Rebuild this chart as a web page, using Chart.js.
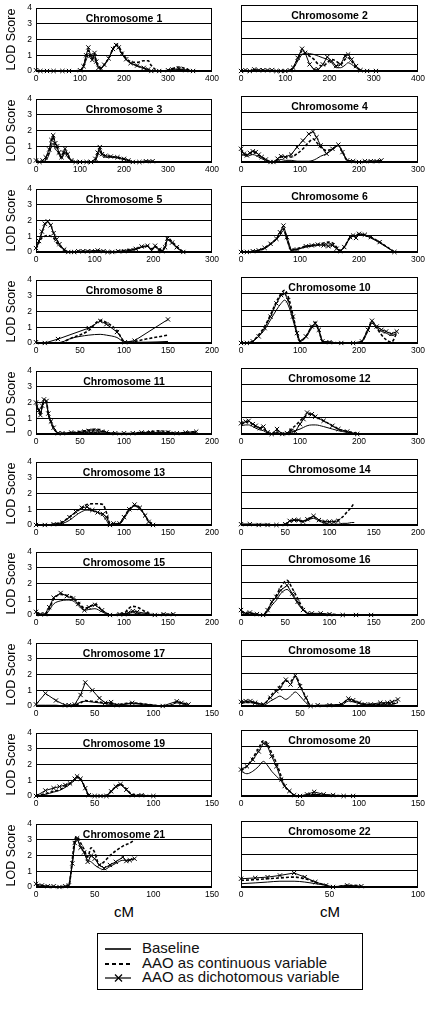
<!DOCTYPE html>
<html>
<head>
<meta charset="utf-8">
<script src="https://cdn.jsdelivr.net/npm/chart.js@4"></script>
<style>
  html, body { margin:0; padding:0; background:#fff; }
  body { width:430px; height:1010px; position:relative; overflow:hidden; font-family:"Liberation Sans", Arial, sans-serif; color:#000; }
  canvas { position:absolute; }
  .cm { position:absolute; font-size:15px; width:60px; margin-left:-30px; text-align:center; top:903px; }
  #legend { position:absolute; left:97px; top:933px; width:266px; height:57px; border:1px solid #000; box-sizing:border-box; }
  .lrow { position:absolute; left:0; height:16px; width:100%; }
  .lrow svg { position:absolute; left:7px; top:0; }
  .lrow span { position:absolute; left:44px; top:-1px; font-size:15px; line-height:16px; white-space:nowrap; color:#111; }
</style>
</head>
<body>
<div class="cm" style="left:124px;">cM</div>
<div class="cm" style="left:330px;">cM</div>
<div id="legend">
  <div class="lrow" style="top:7px;"><svg width="26" height="16"><line x1="0" y1="8" x2="26" y2="8" stroke="#000" stroke-width="1.6"/></svg><span>Baseline</span></div>
  <div class="lrow" style="top:22px;"><svg width="26" height="16"><line x1="0" y1="8" x2="26" y2="8" stroke="#000" stroke-width="1.8" stroke-dasharray="4,3"/></svg><span>AAO as continuous variable</span></div>
  <div class="lrow" style="top:36px;"><svg width="26" height="16"><line x1="0" y1="8" x2="26" y2="8" stroke="#000" stroke-width="1.2"/><line x1="10" y1="4.5" x2="17" y2="11.5" stroke="#000" stroke-width="1.2"/><line x1="17" y1="4.5" x2="10" y2="11.5" stroke="#000" stroke-width="1.2"/></svg><span>AAO as dichotomous variable</span></div>
</div>
<script>
// ---------------- DATA ----------------
const chromNames = ['1','2','3','4','5','6','8','10','11','12','13','14','15','16','17','18','19','20','21','22'];
const xMaxes = [400,400,400,300,300,300,200,300,200,300,200,200,200,200,150,150,150,150,150,100];
const xSteps = [100,100,100,100,100,100,50,100,50,100,50,50,50,50,50,50,50,50,50,50];
const yTicks = [0,1,2,3,4];

const cM1 = [0,10,25,40,60,75,100,108,114,119,124,128,133,137,142,148,155,165,175,182,188,195,205,215,230,245,255,262,280,300,310,325,340,357];
const dich1 = [0.05,0,0,0,0,0,0.05,0.3,1.0,1.5,1.0,0.7,1.15,0.6,0.2,0.15,0.4,0.8,1.4,1.65,1.5,1.1,0.75,0.5,0.35,0.2,0.1,0.0,0.0,0.05,0.1,0.15,0.05,0.0];
const cont1 = [0,0,0,0,0,0,0,0.35,0.9,1.3,0.95,0.8,1.1,0.6,0.3,0.2,0.4,0.8,1.4,1.7,1.55,1.2,0.8,0.6,0.55,0.65,0.65,0.35,0.0,0.05,0.15,0.25,0.15,0.0];
const base1 = [0,0,0,0,0,0,0,0.25,0.7,1.0,0.8,0.75,0.9,0.5,0.3,0.2,0.35,0.8,1.35,1.6,1.45,1.1,0.7,0.5,0.3,0.15,0.05,0.0,0.0,0.0,0.05,0.1,0.05,0.0];

const cM2 = [0,10,20,30,40,50,60,70,80,90,100,110,118,128,138,145,155,165,175,185,195,205,215,225,235,242,250,260,270,285,305];
const dich2 = [0,0.05,0,0.1,0.05,0.05,0.05,0.05,0,0,0,0.05,0.2,0.8,1.35,1.1,0.4,0.1,0.1,0.4,0.85,0.6,0.3,0.4,0.9,1.0,0.7,0.3,0.05,0,0];
const cont2 = [0,0,0,0.05,0.05,0.05,0,0,0,0,0,0,0.2,0.7,1.2,1.05,0.9,0.7,0.4,0.3,0.5,0.7,0.6,0.4,0.7,0.8,0.6,0.25,0.05,0,0];
const base2 = [0,0,0,0.05,0,0,0,0,0,0,0,0,0.15,0.6,1.0,1.1,1.05,1.0,0.9,0.8,0.7,0.5,0.2,0.2,0.35,0.5,0.4,0.2,0.05,0,0];

const cM3 = [0,8,15,22,30,35,39,44,48,52,58,62,66,72,80,90,100,115,125,135,140,145,150,158,170,185,200,210,220,235,250,265];
const dich3 = [0.1,0,0.1,0.3,0.8,1.4,1.7,1.2,1.0,0.6,0.3,0.6,0.85,0.5,0.1,0,0,0,0,0.2,0.6,0.95,0.5,0.4,0.35,0.3,0.2,0.1,0,0,0.05,0.05];
const cont3 = [0.1,0,0.05,0.2,0.7,1.3,1.6,1.1,0.9,0.6,0.3,0.5,0.7,0.4,0.1,0,0,0,0,0.15,0.5,0.85,0.5,0.4,0.35,0.3,0.2,0.1,0,0,0.05,0.05];
const base3 = [0.05,0,0.05,0.1,0.5,1.0,1.2,0.8,0.7,0.5,0.2,0.4,0.6,0.3,0.1,0,0,0,0,0.1,0.4,0.7,0.4,0.3,0.3,0.25,0.15,0.1,0,0,0.05,0.05];

const cM4 = [0,5,10,15,20,25,30,35,42,50,55,62,68,75,85,95,105,115,122,128,135,145,155,165,172,180,190,200,210,220,230,238];
const dich4 = [0.8,0.5,0.4,0.55,0.65,0.6,0.45,0.3,0.15,0.0,0.0,0.2,0.35,0.3,0.45,0.9,1.3,1.7,1.85,1.5,1.0,0.5,0.8,1.05,0.6,0.1,0.05,0.0,0.05,0.05,0.05,0.1];
const cont4 = [0.7,0.5,0.45,0.5,0.6,0.55,0.4,0.3,0.15,0.0,0.0,0.15,0.3,0.3,0.3,0.5,0.8,1.2,1.4,1.2,0.9,0.7,0.8,1.0,0.6,0.1,0.05,0.0,0.05,0.05,0.05,0.1];
const base4 = [0.5,0.4,0.35,0.4,0.45,0.4,0.3,0.2,0.1,0.0,0.0,0.1,0.15,0.1,0.1,0.05,0.05,0.05,0.1,0.2,0.35,0.5,0.75,1.0,0.6,0.1,0.05,0.0,0.0,0.05,0.05,0.05];

const cM5 = [0,5,10,15,20,25,30,35,40,48,55,65,72,80,88,95,105,115,122,130,140,150,160,170,180,190,197,203,210,215,220,224,232,240,251];
const dich5 = [0.25,0.7,1.3,1.8,1.95,1.7,1.2,0.8,0.5,0.15,0.0,0.0,0.05,0.05,0.05,0.05,0.1,0.05,0.0,0.0,0.05,0.05,0.1,0.2,0.35,0.4,0.1,0.4,0.15,0.05,0.3,0.85,0.6,0.3,0.0];
const cont5 = [0.2,0.6,0.9,1.0,1.05,1.0,0.9,0.6,0.4,0.15,0,0,0.05,0.05,0.05,0.05,0.1,0.05,0,0,0.05,0.1,0.15,0.2,0.3,0.4,0.2,0.35,0.2,0.1,0.4,0.9,0.65,0.35,0.0];
const base5 = [0.2,0.65,1.2,1.7,1.9,1.7,1.2,0.8,0.45,0.1,0,0,0,0,0,0.05,0.05,0,0,0,0.05,0.05,0.1,0.15,0.3,0.35,0.1,0.3,0.1,0.05,0.3,0.75,0.55,0.25,0.0];

const cM6 = [0,10,20,30,40,50,60,66,72,78,85,95,110,120,130,140,148,155,162,168,175,185,190,195,200,210,220,235,260];
const dich6 = [0,0,0.05,0.1,0.25,0.5,0.8,1.2,1.6,0.9,0.1,0.15,0.35,0.4,0.45,0.4,0.35,0.4,0.2,0.05,0.3,0.9,1.0,0.85,1.1,1.05,0.9,0.6,0.0];
const cont6 = [0,0,0.05,0.1,0.25,0.5,0.8,1.1,1.4,0.8,0.15,0.2,0.35,0.4,0.45,0.55,0.6,0.55,0.3,0.1,0.3,0.9,1.0,1.0,1.1,1.0,0.9,0.6,0.0];
const base6 = [0,0,0.05,0.1,0.2,0.45,0.75,1.0,1.3,0.7,0.1,0.15,0.3,0.35,0.4,0.45,0.5,0.45,0.25,0.05,0.3,0.85,0.95,0.95,1.05,1.0,0.85,0.55,0.0];

const cM8 = [0,10,25,40,60,73,80,92,101,112,125,150];
const dich8 = [0.05,0,0.25,null,0.95,1.4,1.2,0.7,0.05,0.15,null,1.5];
const cont8 = [0,0,0,0.3,0.8,1.45,1.3,0.8,0.05,0.1,0.25,0.5];
const base8 = [0,0,0,0.3,0.5,0.55,0.5,0.35,0.05,0.05,0.05,0.1];

const cM10 = [0,10,20,30,40,50,60,68,74,80,88,95,100,110,120,126,132,138,150,170,190,205,215,222,230,238,246,255,264];
const dich10 = [0,0,0.1,0.4,0.9,1.6,2.4,2.9,3.0,2.6,1.6,0.6,0.1,0.4,1.0,1.2,0.8,0.1,0.05,0,0,0.1,0.8,1.35,1.0,0.8,0.7,0.55,0.7];
const cont10 = [0,0,0.1,0.5,1.0,1.7,2.5,3.0,3.2,2.8,1.7,0.6,0.1,0.4,1.0,1.25,0.8,0.1,0.05,0,0,0.1,0.8,1.3,0.9,0.5,0.2,0.05,0.6];
const base10 = [0,0,0.1,0.4,0.8,1.4,2.0,2.4,2.6,2.3,1.4,0.5,0.1,0.35,0.9,1.1,0.7,0.1,0.05,0,0,0.1,0.7,1.2,0.9,0.7,0.6,0.45,0.6];

const cM11 = [0,3,5,7,9,12,14,17,20,25,30,40,50,55,60,65,70,75,80,90,100,110,120,130,140,150,160,170,182];
const dich11 = [2.0,1.5,1.2,1.8,2.2,2.1,1.3,0.8,0.4,0.05,0.05,0.1,0.1,0.15,0.2,0.2,0.2,0.15,0.1,0.05,0.05,0.05,0.1,0.1,0.1,0.1,0.05,0.1,0.15];
const cont11 = [1.9,1.6,1.3,1.8,2.1,2.0,1.3,0.8,0.4,0.05,0.05,0.1,0.15,0.2,0.25,0.3,0.3,0.2,0.1,0.05,0,0.05,0.1,0.15,0.2,0.15,0.05,0.1,0.15];
const base11 = [1.8,1.5,1.2,1.7,2.0,1.9,1.2,0.7,0.3,0.05,0,0.05,0.1,0.1,0.1,0.1,0.1,0.05,0.05,0,0,0,0.05,0.05,0.05,0.05,0.05,0.05,0.1];

const cM12 = [0,8,13,20,25,32,38,45,52,61,70,78,85,92,100,106,112,120,126,140,155,165,180,197];
const dich12 = [0.65,0.75,0.8,0.6,0.5,0.35,0.45,0.1,0.0,0.3,0.0,0.05,0.2,0.15,0.6,0.9,1.3,1.2,1.05,0.8,0.5,0.3,0.15,0.0];
const cont12 = [0.6,0.7,0.75,0.55,0.45,0.35,0.3,0.1,0.0,0.2,0.05,0.05,0.3,0.5,0.8,1.0,1.15,1.2,1.05,0.8,0.5,0.3,0.15,0.05];
const base12 = [0.5,0.55,0.55,0.45,0.35,0.25,0.2,0.05,0.0,0.1,0.0,0.05,0.1,0.2,0.3,0.4,0.5,0.55,0.55,0.45,0.3,0.2,0.1,0.0];

const cM13 = [0,10,20,30,38,45,52,58,64,70,76,80,84,88,95,100,106,112,118,124,128,133];
const dich13 = [0,0,0.05,0.15,0.5,0.85,1.1,1.15,0.95,0.8,0.7,0.5,0.0,0.1,0.1,0.5,1.0,1.3,1.1,0.6,0.2,0.0];
const cont13 = [0,0,0.05,0.2,0.5,0.8,1.1,1.3,1.35,1.35,1.3,0.8,0.1,0.05,0.1,0.5,1.0,1.25,1.1,0.6,0.25,0.05];
const base13 = [0,0,0.05,0.1,0.3,0.6,0.85,0.95,0.9,0.8,0.6,0.3,0.0,0.0,0.05,0.4,0.9,1.2,1.0,0.6,0.2,0.0];

const cM14 = [0,10,20,30,40,50,55,60,65,70,75,82,88,95,100,105,110,115,120,125,128];
const dich14 = [0.05,0.05,0,0,0,0.05,0.25,0.3,0.3,0.2,0.35,0.55,0.3,0.2,0.2,0.2,0.25,null,null,null,null];
const cont14 = [0,0,0,0,0,0.05,0.2,0.3,0.25,0.2,0.3,0.5,0.3,0.2,0.2,0.2,0.3,0.5,0.8,1.1,1.35];
const base14 = [0.05,0.05,0.05,0.05,0,0.05,0.25,0.3,0.3,0.25,0.3,0.4,0.25,0.1,0.05,0.05,0.05,0.1,0.1,0.15,0.15];

const cM15 = [0,5,10,15,20,28,35,42,48,55,60,67,75,84,95,100,105,110,115,125,135,145,156];
const dich15 = [0.2,0.05,0.05,0.5,1.1,1.4,1.2,1.05,0.7,0.3,0.5,0.65,0.3,0.0,0.05,0.05,0.15,0.25,0.2,0.1,0.0,0.05,0.05];
const cont15 = [0.15,0.05,0.05,0.4,1.0,1.3,1.25,1.1,0.8,0.45,0.5,0.7,0.3,0.0,0.05,0.1,0.4,0.55,0.5,0.2,0.0,0.05,0.05];
const base15 = [0.1,0,0,0.3,0.7,0.9,0.95,0.9,0.6,0.3,0.35,0.4,0.2,0.0,0.0,0.05,0.1,0.15,0.1,0.05,0.0,0.0,0.05];

const cM16 = [0,5,10,18,25,30,35,40,45,52,58,64,70,75,80,90,100,115,130,147];
const dich16 = [0.3,0.1,0.15,0.05,0.0,0.3,0.8,1.1,1.5,1.8,1.3,0.8,0.3,0.1,0.1,0.1,0.05,0,0,0];
const cont16 = [0.2,0.1,0.1,0.05,0,0.3,0.8,1.2,1.7,2.1,1.6,1.0,0.4,0.1,0.05,0.05,0.05,0,0,0];
const base16 = [0.2,0.05,0.05,0,0,0.2,0.6,0.9,1.3,1.55,1.2,0.7,0.3,0.1,0.05,0.05,0,0,0,0];

const cM17 = [0,8,17,25,28,33,38,42,48,54,59,64,69,75,82,95,108,115,120,124,130];
const dich17 = [0.1,0.8,0.35,0.05,0.05,0.1,0.7,1.5,1.0,0.5,0.2,0.25,0.05,null,0.2,null,0.0,null,0.3,0.2,0.1];
const cont17 = [0,0,0,0,0,0.05,0.2,0.35,0.3,0.25,0.2,0.15,0.1,0.15,0.2,0.1,0.0,0.05,0.25,0.2,0.1];
const base17 = [0.05,0.05,0.05,0,0,0.05,0.25,0.3,0.25,0.2,0.15,0.1,0.05,0.1,0.15,0.05,0,0.05,0.2,0.15,0.05];

const cM18 = [0,4,8,12,19,25,30,33,38,42,46,50,55,59,65,75,85,91,95,100,105,110,118,124,128,133];
const dich18 = [0.25,0.3,0.3,0.2,0.1,0.5,0.9,1.05,1.6,1.3,1.85,1.2,0.5,0.0,0.05,0.05,0.1,0.45,0.35,0.2,0.1,0.1,0.2,0.2,0.25,0.4];
const cont18 = [0.2,0.25,0.25,0.2,0.1,0.6,1.0,1.2,1.5,1.5,1.8,1.3,0.5,0,0,0.05,0.1,0.4,0.3,0.2,0.1,0.1,0.1,0.2,0.15,0.25];
const base18 = [0.15,0.2,0.2,0.15,0.05,0.3,0.5,0.6,0.4,0.6,0.85,0.6,0.2,0,0,0.05,0.05,0.3,0.25,0.15,0.05,0.05,0.1,0.1,0.1,0.2];

const cM19 = [0,8,15,20,25,29,33,35,38,42,45,50,55,60,64,68,72,77,82,90,100];
const dich19 = [0,0.35,0.5,0.6,0.7,0.8,1.1,1.25,1.1,0.5,0.05,0,0,0,0.3,0.6,0.75,0.4,0.05,0.05,0];
const cont19 = [0,0.15,0.3,0.4,0.6,0.8,1.05,1.2,1.1,0.5,0.05,0,0,0.05,0.3,0.6,0.75,0.45,0.1,0.05,0];
const base19 = [0,0.1,0.25,0.35,0.55,0.75,1.0,1.15,1.05,0.5,0.05,0,0,0,0.25,0.55,0.7,0.4,0.05,0,0];

const cM20 = [0,5,10,15,19,22,26,30,34,37,41,45,50,56,62,70,78,87,95];
const dich20 = [1.6,1.8,2.2,2.7,3.2,3.1,2.4,1.8,1.0,0.6,0.3,0.05,0,0.1,0.25,0.1,0.05,0,0];
const cont20 = [1.55,1.8,2.3,2.9,3.35,3.2,2.6,2.0,1.2,0.6,0.3,0.05,0,0.05,0.1,0.05,0.05,0,0];
const base20 = [1.5,1.35,1.5,1.8,2.1,1.9,1.5,1.2,0.9,0.6,0.3,0.05,0,0.05,0.1,0.05,0,0,0];

const cM21 = [0,5,10,15,20,25,28,31,33,35,38,41,44,47,50,54,58,63,68,74,77,80,84];
const dich21 = [0.2,0.1,0.05,0.05,0,0.05,0.1,1.5,2.8,3.1,2.5,2.2,1.6,2.0,1.8,1.4,1.2,1.4,1.6,1.9,1.65,1.7,1.8];
const cont21 = [0.15,0.1,0.05,0,0,0.05,0.1,1.8,3.0,3.2,2.8,2.4,1.9,2.5,2.2,1.4,1.6,2.0,2.3,2.6,2.7,2.8,3.0];
const base21 = [0.1,0.05,0.05,0,0,0,0.1,1.5,2.7,3.0,2.6,2.2,1.7,1.6,1.4,1.2,1.1,1.3,1.5,1.7,1.7,1.75,1.8];

const cM22 = [0,8,15,22,30,36,42,48,52,56,60,64,68];
const dich22 = [0.5,0.55,0.6,0.7,0.85,0.6,0.3,0.1,0.0,null,0.1,null,0.05];
const cont22 = [0.4,0.45,0.5,0.55,0.6,0.5,0.3,0.1,0.0,0.05,0.1,0.1,0.05];
const base22 = [0.2,0.25,0.3,0.35,0.35,0.3,0.2,0.1,0.0,0.05,0.05,0.05,0.0];

const seriesLabels = ['Baseline','AAO as continuous variable','AAO as dichotomous variable'];

// ---------------- CHARTS ----------------
const panelData = [
  [cM1,base1,cont1,dich1],[cM2,base2,cont2,dich2],[cM3,base3,cont3,dich3],[cM4,base4,cont4,dich4],
  [cM5,base5,cont5,dich5],[cM6,base6,cont6,dich6],[cM8,base8,cont8,dich8],[cM10,base10,cont10,dich10],
  [cM11,base11,cont11,dich11],[cM12,base12,cont12,dich12],[cM13,base13,cont13,dich13],[cM14,base14,cont14,dich14],
  [cM15,base15,cont15,dich15],[cM16,base16,cont16,dich16],[cM17,base17,cont17,dich17],[cM18,base18,cont18,dich18],
  [cM19,base19,cont19,dich19],[cM20,base20,cont20,dich20],[cM21,base21,cont21,dich21],[cM22,base22,cont22,dich22]
];

Chart.defaults.font.family = '"Liberation Sans", Arial, sans-serif';
Chart.defaults.color = '#000';

const frameAndTitle = {
  id: 'frameAndTitle',
  afterDraw(chart, args, opts) {
    const ctx = chart.ctx, a = chart.chartArea;
    ctx.save();
    ctx.strokeStyle = '#000';
    ctx.lineWidth = 1;
    const l = Math.round(a.left) + 0.5, t = Math.round(a.top) + 0.5;
    const r = Math.round(a.right) - 0.5, b = Math.round(a.bottom) - 0.5;
    ctx.strokeRect(l, t, r - l, b - t);
    ctx.fillStyle = '#000';
    ctx.font = 'bold 10.5px "Liberation Sans", Arial, sans-serif';
    ctx.textAlign = 'center';
    ctx.textBaseline = 'middle';
    ctx.fillText(opts.text, (a.left + a.right) / 2, a.top + 11.5);
    ctx.restore();
  }
};

const ROW_TOPS = [5, 96, 186, 277, 368, 459, 549, 640, 730, 821];
const PLOT_H = 66;

const toPts = (xs, ys) => xs.map((x, i) => ({ x: x, y: ys[i] }));

chromNames.forEach((name, i) => {
  const col = i % 2, row = Math.floor(i / 2);
  const [xs, base, cont, dich] = panelData[i];
  const cv = document.createElement('canvas');
  const left = col === 0 ? 0 : 230;
  const width = col === 0 ? 225 : 200;
  const top = ROW_TOPS[row] - 6;
  const height = 6 + PLOT_H + 16;
  cv.width = width; cv.height = height;
  cv.style.left = left + 'px'; cv.style.top = top + 'px';
  cv.style.width = width + 'px'; cv.style.height = height + 'px';
  document.body.appendChild(cv);

  new Chart(cv, {
    type: 'line',
    data: {
      datasets: [
        { label: seriesLabels[0], data: toPts(xs, base), borderColor: '#000', borderWidth: 1, pointRadius: 0,
          cubicInterpolationMode: 'monotone', spanGaps: true, clip: false, fill: false },
        { label: seriesLabels[1], data: toPts(xs, cont), borderColor: '#000', borderWidth: 1.6, borderDash: [3, 2], pointRadius: 0,
          cubicInterpolationMode: 'monotone', spanGaps: true, clip: false, fill: false },
        { label: seriesLabels[2], data: toPts(xs, dich), borderColor: '#000', borderWidth: 1, tension: 0,
          pointStyle: 'crossRot', pointRadius: 3, pointBorderWidth: 1, pointBorderColor: '#000', pointBackgroundColor: '#000',
          spanGaps: true, clip: false, fill: false }
      ]
    },
    options: {
      responsive: false,
      animation: false,
      events: [],
      layout: { padding: { top: 6, right: col === 0 ? 13 : 12, bottom: 0, left: 0 } },
      plugins: {
        legend: { display: false },
        tooltip: { enabled: false },
        frameAndTitle: { text: 'Chromosome ' + name }
      },
      scales: {
        x: {
          type: 'linear', min: 0, max: xMaxes[i],
          ticks: { stepSize: xSteps[i], autoSkip: false, maxRotation: 0, padding: 3, color: '#000', font: { size: 8.5 } },
          grid: { display: false, drawTicks: false },
          border: { display: false },
          afterFit: s => { s.height = 16; }
        },
        y: {
          min: yTicks[0], max: yTicks[yTicks.length - 1],
          ticks: { stepSize: 1, display: col === 0, padding: 4, color: '#000', font: { size: 8.5 } },
          grid: { color: '#000', lineWidth: 1, drawTicks: false },
          border: { display: false },
          title: { display: col === 0, text: 'LOD Score', color: '#000', font: { size: 12.5 }, padding: { top: 4, bottom: 0 } },
          afterFit: s => { s.width = col === 0 ? 36 : 11; }
        }
      }
    },
    plugins: [frameAndTitle]
  });
});
</script>
</body>
</html>
